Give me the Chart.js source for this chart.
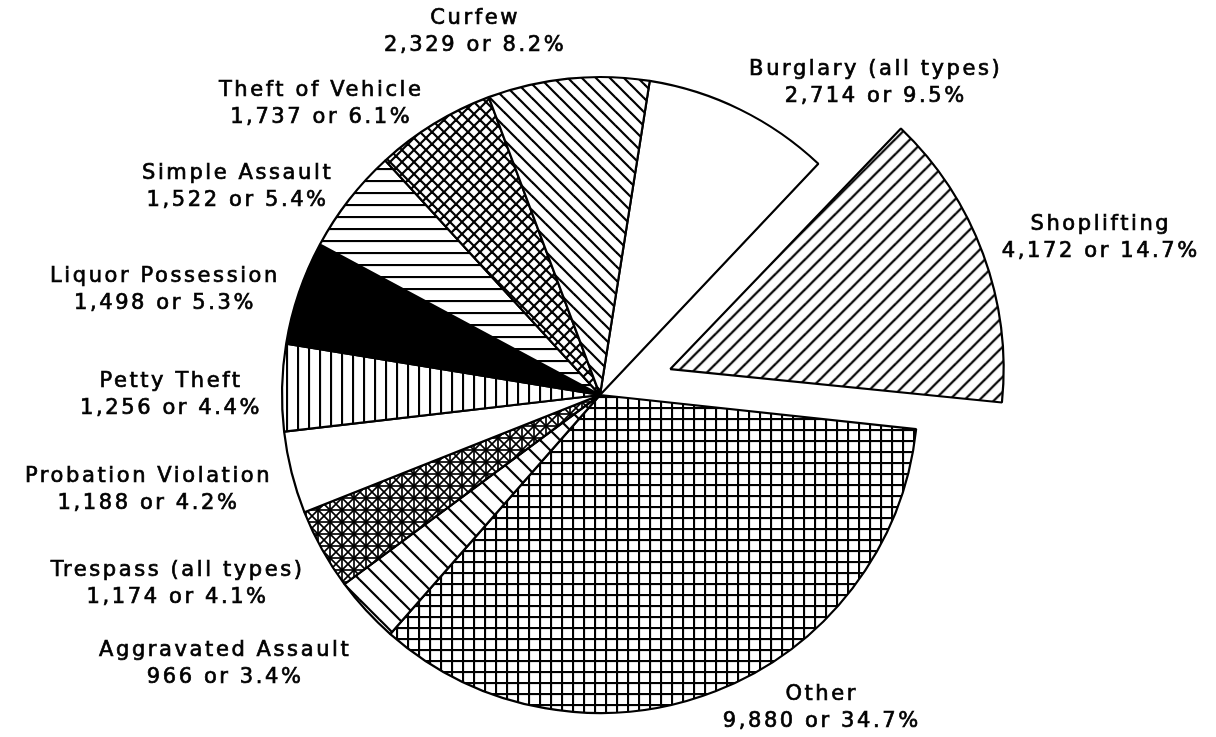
<!DOCTYPE html>
<html>
<head>
<meta charset="utf-8">
<script src="https://cdn.jsdelivr.net/npm/chart.js@4.4.1/dist/chart.umd.min.js"></script>
<style>
  html, body { margin: 0; padding: 0; background: #fff; }
  #wrap { width: 1216px; height: 737px; }
</style>
</head>
<body>
<div id="wrap"><canvas id="pie" width="1216" height="737"></canvas></div>
<script>
// offences, clockwise from the top of the pie
var categories = ['Burglary (all types)', 'Shoplifting', 'Other', 'Aggravated Assault', 'Trespass (all types)',
  'Probation Violation', 'Petty Theft', 'Liquor Possession', 'Simple Assault', 'Theft of Vehicle', 'Curfew'];
var counts = [2714, 4172, 9880, 966, 1174, 1188, 1256, 1498, 1522, 1737, 2329];
var shares = ['9.5', '14.7', '34.7', '3.4', '4.1', '4.2', '4.4', '5.3', '5.4', '6.1', '8.2'];

// hatch style per slice (same order)
var hatchKinds = ['blank', 'slash', 'grid', 'wide', 'star', 'blank', 'vert', 'solid', 'horiz', 'diamond', 'back'];

function hatch(kind) {
  if (kind === 'blank') return '#fff';
  var s = { slash: 15, back: 14, wide: 20, grid: 11, horiz: 12, vert: 11, diamond: 12, star: 12, solid: 4 }[kind];
  var c = document.createElement('canvas');
  c.width = s; c.height = s;
  var g = c.getContext('2d');
  g.fillStyle = '#fff';
  g.fillRect(0, 0, s, s);
  g.strokeStyle = '#000';
  g.lineWidth = 2.2;
  function ln(x1, y1, x2, y2) { g.beginPath(); g.moveTo(x1, y1); g.lineTo(x2, y2); g.stroke(); }
  function fwd() { ln(-2, 2, 2, -2); ln(-1, s + 1, s + 1, -1); ln(s - 2, s + 2, s + 2, s - 2); }
  function bwd() { ln(-2, s - 2, 2, s + 2); ln(-1, -1, s + 1, s + 1); ln(s - 2, -2, s + 2, 2); }
  if (kind === 'solid') { g.fillStyle = '#000'; g.fillRect(0, 0, s, s); }
  if (kind === 'slash') fwd();
  if (kind === 'back' || kind === 'wide') bwd();
  if (kind === 'diamond') { fwd(); bwd(); }
  if (kind === 'horiz') ln(0, 1, s, 1);
  if (kind === 'vert') ln(1, 0, 1, s);
  if (kind === 'grid') { ln(0, 1, s, 1); ln(1, 0, 1, s); }
  if (kind === 'star') {
    g.lineWidth = 1.7;
    fwd(); bwd();
    ln(0, s / 2, s, s / 2); ln(s / 2, 0, s / 2, s);
  }
  return g.createPattern(c, 'repeat');
}

var sliceLabels = {
  id: 'sliceLabels',
  afterDatasetsDraw: function(chart) {
    var ctx = chart.ctx;
    var arcs = chart.getDatasetMeta(0).data;
    var lineH = 27, H = chart.height;
    ctx.save();
    ctx.font = '21px "DejaVu Sans"';
    ctx.letterSpacing = '2.6px';
    ctx.fillStyle = '#000';
    ctx.strokeStyle = '#000';
    ctx.lineWidth = 0.7;
    ctx.textAlign = 'center';
    ctx.textBaseline = 'middle';
    arcs.forEach(function(arc, i) {
      var mid = (arc.startAngle + arc.endAngle) / 2;
      var push = (arc.options.offset || 0) / 4;
      var grow = push * (1 - Math.sin(Math.min(Math.PI, arc.circumference)));
      var cx = arc.x + Math.cos(mid) * push;
      var cy = arc.y + Math.sin(mid) * push;
      var r = arc.outerRadius + grow + 20;
      var ax = cx + Math.cos(mid) * r;
      var ay = cy + Math.sin(mid) * r;
      var lines = [categories[i], counts[i].toLocaleString('en-US') + ' or ' + shares[i] + '%'];
      var w = Math.max(ctx.measureText(lines[0]).width, ctx.measureText(lines[1]).width);
      var h = lineH * 2;
      var sn = Math.sin(mid), cs = Math.cos(mid);
      var bx = cs >= 0 ? ax + w / 2 : ax - w / 2;
      var by;
      if (Math.abs(cs) < 0.2) by = ay + (sn < 0 ? -h / 2 : h / 2);
      else if (sn < 0) by = cs > 0 ? ay - 9 : ay + 8 + 13 * sn;
      else by = ay + 8 + 70 * sn * sn;
      by = Math.min(Math.max(by, h / 2 + 2), H - h / 2 - 2);
      [lines[0], lines[1]].forEach(function(t, k) {
        var y = by + (k === 0 ? -lineH / 2 : lineH / 2);
        ctx.fillText(t, bx, y);
        ctx.strokeText(t, bx, y);
      });
    });
    ctx.restore();
  }
};

new Chart(document.getElementById('pie'), {
  type: 'pie',
  data: {
    labels: categories,
    datasets: [{
      data: counts,
      backgroundColor: hatchKinds.map(hatch),
      borderColor: '#000',
      borderWidth: 2.2,
      offset: function(c) { return categories[c.dataIndex] === 'Shoplifting' ? 300 : 0; }
    }]
  },
  options: {
    responsive: false,
    animation: false,
    devicePixelRatio: 1,
    events: [],
    rotation: 9,
    radius: 318,
    layout: { padding: { left: 0, right: 16, top: 53, bottom: 0 } },
    plugins: { legend: { display: false }, tooltip: { enabled: false } }
  },
  plugins: [sliceLabels]
});
</script>
</body>
</html>
